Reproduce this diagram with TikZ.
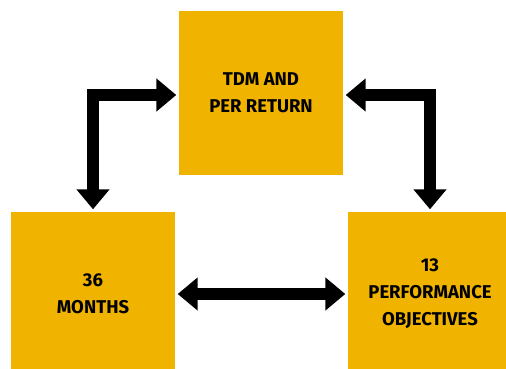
\documentclass[tikz,border=0pt]{standalone}
\usepackage{fontspec}
\setmainfont{Fira Sans}
\usetikzlibrary{arrows.meta,calc}
\definecolor{boxyellow}{HTML}{F0B400}
\begin{document}
\begin{tikzpicture}[x=1pt,y=-1pt,
  box/.style={rectangle,fill=boxyellow,minimum width=164pt,minimum height=164pt,inner sep=0pt,
    align=center,font=\fontsize{18.5}{27}\selectfont\bfseries},
  link/.style={line width=12.5pt,line join=miter,
    {Triangle[width=32pt,length=20pt]}-{Triangle[width=32pt,length=20pt]},
    shorten <=2.5pt,shorten >=2.5pt}]
\useasboundingbox[clip] (0,0) rectangle (506,369);
\node[box] (top) at (261,93) {TDM AND\\PER RETURN};
\node[box] (left) at (93,294) {36\\MONTHS};
\node[box] (right) at (430,294) {13\\PERFORMANCE\\OBJECTIVES};
\draw[link] (left.north) |- ([yshift=-2pt]top.west);
\draw[link] (right.north) |- ([yshift=-2pt]top.east);
\draw[link] (left.east) -- (right.west);
\end{tikzpicture}
\end{document}
